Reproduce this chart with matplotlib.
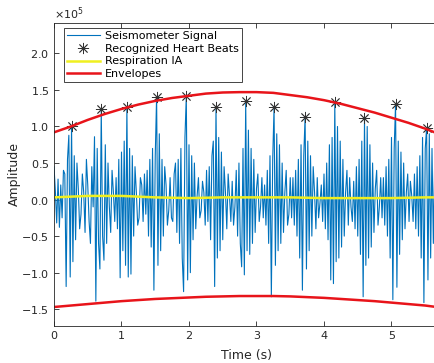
import numpy as np
import matplotlib
matplotlib.use("Agg")
import matplotlib.pyplot as plt

# --- data (amplitudes in units of 1e5) ---
dt = 0.02
signal = [
    # up to beat 1
    0.45, 0.12, -0.32, 0.28, -0.38, 0.2, -0.25, 0.4, 0.35, -1.19, 0.55, 0.88, -1.06,
    1.01,
    -0.85, 0.6, -0.55, 0.5, 0.15, -0.4, -0.2, 0.35, 0.1, -0.45, 0.55, 0.2, -0.3, -0.6,
    0.45, -0.1, 0.86, -1.39, 0.7, -0.6, -0.95,
    1.24,
    -0.5, -0.83, 0.75, -0.6, 0.5, -0.1, -0.45, 0.4, 0.1, -0.3, 0.3, -0.4, 0.55,
    -1.07, 0.65, -0.7, 0.8, -0.9,
    1.27,
    -1.06, 0.7, -1.02, 0.6, -0.5, 0.45, 0.1, -0.35, -0.25, 0.3, 0.2, -0.3, 0.35,
    -0.2, 0.4, -0.5, 0.55, -0.65, 0.7, -1.24, 0.6,
    1.41,
    -0.9, 0.9, -0.7, 0.55, -0.5, 0.45, 0.2, -0.35, -0.15, 0.3, -0.25, -0.3, 0.35,
    0.5, -0.45, 0.55, -0.6, 0.7, -0.8, -1.26, 0.85,
    1.42,
    -1.1, 0.75, -1.0, 0.6, -0.55, 0.5, -0.4, 0.05, 0.3, -0.25, -0.15, 0.25, 0.1,
    -0.35, 0.4, -0.3, 0.45, -0.55, 0.6, 0.8, -1.19,
    1.27,
    -0.8, 0.85, -0.7, 0.65, -0.55, 0.45, 0.1, -0.4, 0.35, 0.05, -0.3, 0.25, -0.35,
    -0.1, 0.4, -0.5, 0.5, -0.6, -0.92, 0.7, -1.03,
    1.35,
    -0.7, 0.95, -0.75, 0.7, -0.6, 0.55, -0.45, 0.15, 0.35, -0.3, -0.1, 0.3, -0.25,
    0.2, -0.35, 0.4, -0.6, 0.6, -1.33, 0.55,
    1.26,
    -0.9, 0.9, -0.7, 0.75, -0.6, 0.5, -0.45, 0.1, 0.4, -0.35, -0.2, 0.3, -0.25,
    0.3, -0.35, 0.4, -0.5, 0.55, -0.8, 0.75, -1.24, 0.6,
    1.13,
    -0.95, 0.8, -0.7, 0.6, -0.5, 0.45, 0.1, -0.4, 0.3, -0.25, -0.05, 0.2, -0.3,
    0.35, -0.4, 0.5, -0.55, 0.75, -1.1, 0.85, -1.15,
    1.33,
    -0.85, 1.0, -0.8, 0.8, -0.65, 0.55, -0.5, 0.1, 0.4, -0.35, 0.3, -0.1, -0.3,
    0.25, -0.4, 0.45, -0.5, 0.55, -0.75, 0.8, -1.33,
    1.11,
    -0.9, 1.0, -0.8, 0.75, -0.65, 0.5, -0.45, 0.15, 0.4, -0.35, -0.1, 0.3, -0.25,
    0.3, -0.35, 0.45, -0.5, 0.55, -0.8, 0.85, -1.37, 0.7,
    1.31,
    -1.2, 0.8, -0.75, 0.65, -0.55, 0.5, -0.4, 0.1, 0.35, -0.3, 0.25, 0.05, -0.3,
    0.35, -0.4, 0.45, -0.5, 0.6, -0.8, 0.85, -1.41, 0.7,
    0.98,
    -1.1, 0.9, -0.8, 0.7, -0.6, 0.55, -0.45, 0.4, -0.35,
]

beat_times = [0.26, 0.70, 1.08, 1.52, 1.96, 2.40, 2.84, 3.26, 3.72, 4.16, 4.60, 5.06, 5.52]
beat_values = [1.01, 1.24, 1.27, 1.41, 1.42, 1.27, 1.35, 1.26, 1.13, 1.33, 1.11, 1.31, 0.98]

env_t = [0.0, 0.25, 0.5, 0.75, 1.0, 1.25, 1.5, 1.75, 2.0, 2.25, 2.5, 2.75, 3.0,
         3.25, 3.5, 3.75, 4.0, 4.25, 4.5, 4.75, 5.0, 5.25, 5.5, 5.75]
env_upper = [0.92, 1.0, 1.09, 1.17, 1.24, 1.3, 1.35, 1.39, 1.42, 1.45, 1.465, 1.47, 1.47,
             1.46, 1.43, 1.4, 1.36, 1.31, 1.25, 1.19, 1.12, 1.05, 0.97, 0.88]
env_lower = [-1.47, -1.45, -1.43, -1.41, -1.39, -1.375, -1.36, -1.35, -1.34, -1.33, -1.325, -1.32, -1.32,
             -1.32, -1.325, -1.335, -1.345, -1.36, -1.375, -1.39, -1.41, -1.43, -1.45, -1.48]

resp_t = [0.0, 0.5, 1.0, 1.5, 2.0, 2.5, 3.0, 3.5, 4.0, 4.5, 5.0, 5.5, 5.75]
resp = [0.03, 0.05, 0.05, 0.03, 0.02, 0.03, 0.03, 0.03, 0.02, 0.02, 0.02, 0.03, 0.03]

scale = 1e5
t = np.arange(len(signal)) * dt

fig = plt.figure(figsize=(4.35, 3.63), dpi=100)
ax = fig.add_axes([54 / 435, 37 / 363, 384.75 / 435, 303.3 / 363])

ax.plot(t, np.array(signal) * scale, color='#0072BD', lw=0.8, label='Seismometer Signal')
ax.plot(beat_times, np.array(beat_values) * scale, ls='none', marker=(8, 2, 0),
        ms=8, mec='#333333', mew=0.6, label='Recognized Heart Beats')
ax.plot(resp_t, np.array(resp) * scale, color='#f0f020', lw=1.8, label='Respiration IA')
ax.plot(env_t, np.array(env_upper) * scale, color='#e8141a', lw=1.8, label='Envelopes')
ax.plot(env_t, np.array(env_lower) * scale, color='#e8141a', lw=1.8)

ax.set_xlim(0, 5.7)
ax.set_ylim(-1.73e5, 2.42e5)
ax.set_xticks([0, 1, 2, 3, 4, 5])
ax.set_yticks(np.array([-1.5, -1, -0.5, 0, 0.5, 1, 1.5, 2]) * scale)
ax.ticklabel_format(style='sci', axis='y', scilimits=(0, 0), useMathText=True)
ax.yaxis.get_offset_text().set_fontsize(8)
ax.yaxis.get_offset_text().set_color('#262626')

ax.tick_params(direction='in', length=3.5, width=0.6, top=True, right=True,
               labelsize=8, colors='#262626')
for s in ax.spines.values():
    s.set_color('#262626')
    s.set_linewidth(0.6)

ax.set_xlabel('Time (s)', fontsize=9, color='#262626', labelpad=6)
ax.set_ylabel('Amplitude', fontsize=9, color='#262626', labelpad=0)

leg = ax.legend(loc='upper left', bbox_to_anchor=(10 / 384.75, 1 - 5.3 / 303.3),
                borderaxespad=0, fontsize=8, handlelength=2.9, handletextpad=0.5,
                labelspacing=0.23, borderpad=0.3, fancybox=False, framealpha=1)
leg.get_frame().set_edgecolor('#262626')
leg.get_frame().set_linewidth(0.6)

fig.savefig('out.png', dpi=100)
